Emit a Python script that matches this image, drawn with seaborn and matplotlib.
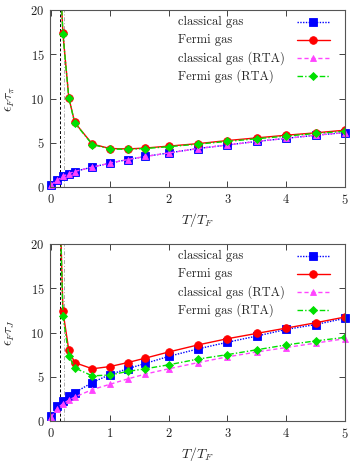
import numpy as np
import pandas as pd
import matplotlib
matplotlib.use("Agg")
import matplotlib.pyplot as plt
from matplotlib.lines import Line2D
import seaborn as sns

# ---------------- data ----------------
x_all = [0.0, 0.1, 0.2, 0.3, 0.4, 0.7, 1.0, 1.3, 1.6, 2.0, 2.5, 3.0, 3.5, 4.0, 4.5, 5.0]
x_fermi = [0.1, 0.2, 0.3, 0.4, 0.7, 1.0, 1.3, 1.6, 2.0, 2.5, 3.0, 3.5, 4.0, 4.5, 5.0]

# top panel: eps_F tau_pi
top_classical = [0.26, 0.75, 1.2, 1.5, 1.75, 2.25, 2.7, 3.1, 3.45, 3.85, 4.35, 4.75, 5.15, 5.5, 5.85, 6.15]
top_fermi = [31.0, 17.35, 10.1, 7.3, 4.85, 4.35, 4.3, 4.4, 4.62, 4.9, 5.25, 5.55, 5.85, 6.12, 6.42]
top_classical_rta = [0.26, 0.75, 1.2, 1.5, 1.75, 2.25, 2.7, 3.1, 3.45, 3.85, 4.35, 4.75, 5.15, 5.5, 5.85, 6.15]
top_fermi_rta = [31.0, 17.3, 10.05, 7.25, 4.8, 4.3, 4.25, 4.35, 4.55, 4.85, 5.15, 5.45, 5.75, 6.05, 6.3]

# bottom panel: eps_F tau_J
bot_classical = [0.55, 1.65, 2.3, 2.8, 3.2, 4.35, 5.25, 5.9, 6.5, 7.3, 8.15, 8.9, 9.6, 10.35, 10.9, 11.6]
bot_fermi = [37.0, 12.4, 8.0, 6.6, 5.9, 6.15, 6.6, 7.1, 7.8, 8.6, 9.3, 9.9, 10.5, 11.1, 11.75]
bot_classical_rta = [0.45, 1.4, 1.95, 2.35, 2.7, 3.55, 4.15, 4.75, 5.3, 5.9, 6.6, 7.25, 7.8, 8.3, 8.8, 9.3]
bot_fermi_rta = [37.0, 11.85, 7.4, 6.0, 5.1, 5.2, 5.6, 5.9, 6.35, 7.0, 7.5, 8.05, 8.6, 9.05, 9.45]

labels = ["classical gas", "Fermi gas", "classical gas (RTA)", "Fermi gas (RTA)"]
ylabels = [r"$\epsilon_F\tau_\pi$", r"$\epsilon_F\tau_J$"]
xlabel = r"$T/T_F$"
xticks = [0, 1, 2, 3, 4, 5]
yticks = [0, 5, 10, 15, 20]
vline_black = 0.15
vline_gray = 0.21

# ---------------- style ----------------
sns.set_theme(style="ticks")
plt.rcParams["font.family"] = ["cmr10", "DejaVu Serif"]
plt.rcParams["mathtext.fontset"] = "cm"
plt.rcParams["axes.formatter.use_mathtext"] = True
plt.rcParams["font.size"] = 9

styles = [
    dict(color="#0000ff", marker="s", linestyle=(0, (1, 1)), ms=5.5, lw=1.0),
    dict(color="#ff0000", marker="o", linestyle="-", ms=5.5, lw=1.0),
    dict(color="#ff44ff", marker="^", linestyle=(0, (3, 2)), ms=4.5, lw=1.0),
    dict(color="#00e000", marker="D", linestyle=(0, (4, 1.5, 1, 1.5)), ms=4.0, lw=1.0),
]

fig = plt.figure(figsize=(3.54, 4.62), dpi=100)
W, H = 354, 462
ax_top = fig.add_axes([50 / W, 1 - 187 / H, 295 / W, 177 / H])
ax_bot = fig.add_axes([50 / W, 1 - 421 / H, 295 / W, 177 / H])

panels = [
    (ax_top, [top_classical, top_fermi, top_classical_rta, top_fermi_rta], ylabels[0]),
    (ax_bot, [bot_classical, bot_fermi, bot_classical_rta, bot_fermi_rta], ylabels[1]),
]

legend_rows = [0.932, 0.83, 0.729, 0.627]

for ax, series, ylab in panels:
    ax.axvline(vline_black, color="black", lw=0.7, linestyle=(0, (3, 2)))
    ax.axvline(vline_gray, color="#aaaaaa", lw=0.7, linestyle=(0, (4, 2, 1, 2)))
    for i, (ys, st) in enumerate(zip(series, styles)):
        xs = x_all if len(ys) == len(x_all) else x_fermi
        df = pd.DataFrame({"x": xs, "y": ys})
        n_before = len(ax.lines)
        sns.lineplot(data=df, x="x", y="y", ax=ax, color=st["color"],
                     marker=st["marker"], markersize=st["ms"], linewidth=st["lw"],
                     markeredgecolor=st["color"], markeredgewidth=0.6,
                     estimator=None, sort=False)
        ln = ax.lines[n_before]
        ln.set_linestyle(st["linestyle"])
        if max(ys) <= 20:
            ln.set_clip_on(False)
        # gnuplot-style key
        yk = legend_rows[i]
        ax.text(0.434, yk, labels[i], transform=ax.transAxes, ha="left", va="center",
                fontsize=9)
        key = Line2D([0.837, 0.893, 0.949], [yk, yk, yk], transform=ax.transAxes,
                     color=st["color"], linestyle=st["linestyle"], lw=st["lw"],
                     marker=st["marker"], markersize=st["ms"], markevery=[1],
                     markeredgecolor=st["color"], markeredgewidth=0.6, clip_on=False)
        ax.add_line(key)

    ax.set_xlim(-0.02, 5.0)
    ax.set_ylim(0, 20)
    ax.set_xticks(xticks)
    ax.set_yticks(yticks)
    ax.set_xlabel(xlabel, fontsize=10, labelpad=3)
    ax.set_ylabel(ylab, fontsize=10, labelpad=10)
    ax.tick_params(direction="in", top=True, right=True, length=4, width=0.6,
                   labelsize=9, colors="#222222", pad=4)
    for sp in ax.spines.values():
        sp.set_color("#555555")
        sp.set_linewidth(0.8)

fig.savefig("out.png", dpi=100)
